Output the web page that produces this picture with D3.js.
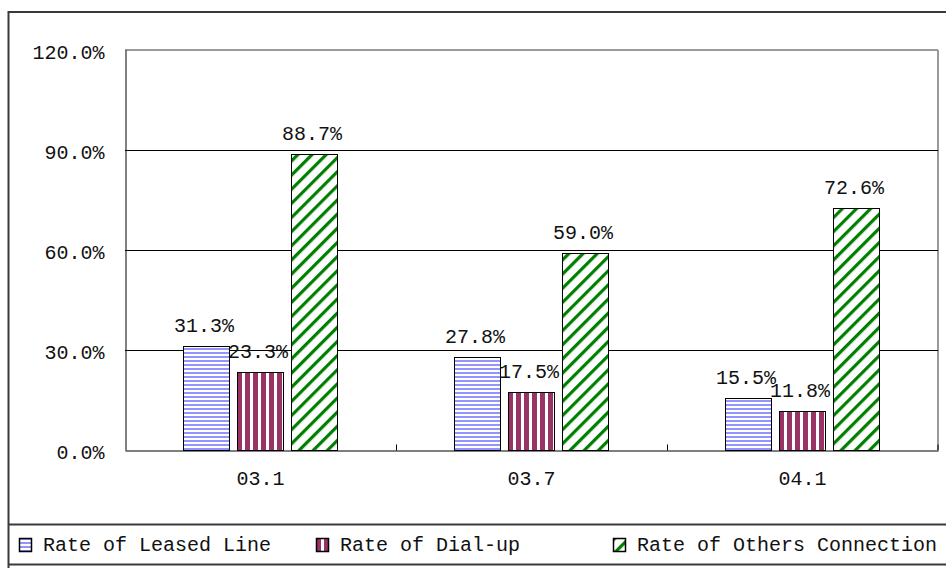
<!DOCTYPE html>
<html>
<head>
<meta charset="utf-8">
<script src="https://cdn.jsdelivr.net/npm/d3@7"></script>
<style>
  html, body { margin: 0; padding: 0; background: #fff; }
  svg { display: block; }
  text { font-family: "Liberation Mono", "DejaVu Sans Mono", monospace; fill: #111; }
</style>
</head>
<body>
<svg id="chart" width="946" height="568"></svg>
<script>
const categories = ["03.1", "03.7", "04.1"];
const seriesNames = ["Rate of Leased Line", "Rate of Dial-up", "Rate of Others Connection"];
const leased = [31.3, 27.8, 15.5];
const dialup = [23.3, 17.5, 11.8];
const others = [88.7, 59.0, 72.6];
const yTicks = [0, 30, 60, 90, 120];

const svg = d3.select("#chart");
const W = 946, H = 568;
const plot = { left: 125, right: 938, top: 50, bottom: 450 };

// patterns
const defs = svg.append("defs");
const pLeased = defs.append("pattern").attr("id", "pat0").attr("patternUnits", "userSpaceOnUse")
  .attr("width", 8).attr("height", 4);
pLeased.append("rect").attr("width", 8).attr("height", 4).attr("fill", "#fff");
pLeased.append("rect").attr("y", 0).attr("width", 8).attr("height", 2).attr("fill", "#9494ff");

const pDial = defs.append("pattern").attr("id", "pat1").attr("patternUnits", "userSpaceOnUse")
  .attr("width", 8).attr("height", 8);
pDial.append("rect").attr("width", 8).attr("height", 8).attr("fill", "#fff");
pDial.append("rect").attr("x", 0).attr("width", 5).attr("height", 8).attr("fill", "#993366");

const pOth = defs.append("pattern").attr("id", "pat2").attr("patternUnits", "userSpaceOnUse")
  .attr("width", 10).attr("height", 10).attr("patternTransform", "rotate(45)");
pOth.append("rect").attr("width", 10).attr("height", 10).attr("fill", "#fff");
pOth.append("rect").attr("x", 0).attr("width", 3.2).attr("height", 10).attr("fill", "#008000");

const fills = ["url(#pat0)", "url(#pat1)", "url(#pat2)"];
const seriesData = [leased, dialup, others];

// outer frame
svg.append("rect").attr("x", 8.5).attr("y", 12).attr("width", 960).attr("height", 580)
  .attr("fill", "none").attr("stroke", "#3a3a3a").attr("stroke-width", 2);

// scales
const x0 = d3.scaleBand().domain(categories).range([plot.left, plot.right]).padding(0);
const bw = x0.bandwidth();
const x1 = d3.scaleBand().domain(d3.range(3)).range([bw * 58 / 271, bw * 212 / 271]).paddingInner(0.15).paddingOuter(0);
const y = d3.scaleLinear().domain([0, 120]).range([plot.bottom, plot.top]);

// plot border (top/right gray)
svg.append("line").attr("x1", plot.left).attr("x2", plot.right).attr("y1", plot.top).attr("y2", plot.top)
  .attr("stroke", "#9a9a9a").attr("stroke-width", 2);
svg.append("line").attr("x1", plot.right).attr("x2", plot.right).attr("y1", plot.top).attr("y2", plot.bottom)
  .attr("stroke", "#9a9a9a").attr("stroke-width", 2);

// gridlines
svg.append("g").selectAll("line").data(yTicks.filter(t => t > 0 && t < 120)).join("line")
  .attr("x1", plot.left).attr("x2", plot.right)
  .attr("y1", d => Math.round(y(d)) + 0.5).attr("y2", d => Math.round(y(d)) + 0.5)
  .attr("stroke", "#000").attr("stroke-width", 1);

// y axis
const yAxis = d3.axisLeft(y).tickValues(yTicks).tickSize(0).tickPadding(21)
  .tickFormat(d => d.toFixed(1) + "%");
const gy = svg.append("g").attr("transform", `translate(${plot.left + 0.5},0)`).call(yAxis);
gy.select(".domain").attr("stroke", "#000");
gy.selectAll("text").style("font-family", '"Liberation Mono", monospace').style("font-size", "20px")
  .attr("fill", "#111").attr("dy", "0.4em");

// x axis
const xAxis = d3.axisBottom(x0).tickSize(0).tickPadding(20);
const gx = svg.append("g").attr("transform", `translate(0,${plot.bottom + 0.5})`).call(xAxis);
gx.select(".domain").attr("stroke", "#000");
gx.selectAll("text").style("font-family", '"Liberation Mono", monospace').style("font-size", "20px").attr("fill", "#111");
// category boundary ticks
gx.append("g").selectAll("line").data(categories.slice(1).concat([null])).join("line")
  .attr("x1", (d, i) => i < 2 ? x0(d) + 0.5 : plot.right)
  .attr("x2", (d, i) => i < 2 ? x0(d) + 0.5 : plot.right)
  .attr("y1", 0).attr("y2", -6).attr("stroke", "#000");

// bars
const groups = svg.append("g").selectAll("g").data(categories).join("g")
  .attr("transform", d => `translate(${x0(d)},0)`);
groups.each(function(cat, ci) {
  const g = d3.select(this);
  for (let s = 0; s < 3; s++) {
    const v = seriesData[s][ci];
    g.append("rect")
      .attr("x", Math.round(x1(s)) + 0.5)
      .attr("y", Math.round(y(v)) + 0.5)
      .attr("width", Math.round(x1.bandwidth()))
      .attr("height", Math.round(y(0)) - Math.round(y(v)))
      .attr("fill", fills[s]).attr("stroke", "#000").attr("stroke-width", 1);
    g.append("text")
      .attr("x", x1(s) + x1.bandwidth() / 2 - 2)
      .attr("y", y(v) - 14)
      .attr("text-anchor", "middle")
      .style("font-size", "20px")
      .text(v.toFixed(1) + "%");
  }
});

// legend box
svg.append("line").attr("x1", 8).attr("x2", W).attr("y1", 524.5).attr("y2", 524.5).attr("stroke", "#3a3a3a").attr("stroke-width", 2);
svg.append("line").attr("x1", 8).attr("x2", W).attr("y1", 564.5).attr("y2", 564.5).attr("stroke", "#3a3a3a").attr("stroke-width", 2);

const legendX = [19, 316, 613];
const legend = svg.append("g").selectAll("g").data(seriesNames).join("g")
  .attr("transform", (d, i) => `translate(${legendX[i]},538)`);
legend.append("rect").attr("x", 0.5).attr("y", 0.5).attr("width", 12).attr("height", 13)
  .attr("fill", (d, i) => fills[i]).attr("stroke", "#000").attr("stroke-width", 1.5);
legend.append("text").attr("x", 24).attr("y", 13).style("font-size", "20px").text(d => d);
</script>
</body>
</html>
